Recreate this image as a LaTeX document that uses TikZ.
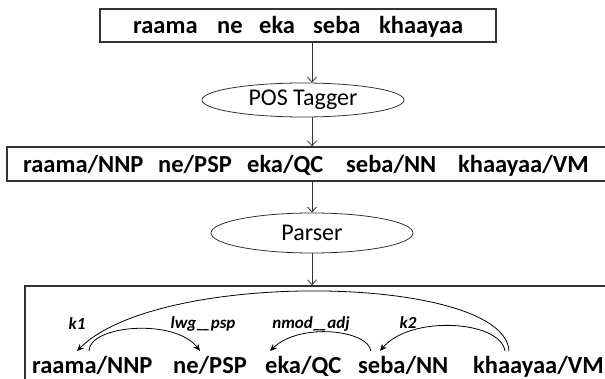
\documentclass[tikz,border=0pt]{standalone}
\usepackage{fontspec}
\setmainfont{Carlito}
\usetikzlibrary{arrows.meta,shapes.geometric}
\newcommand{\dblus}{\_\kern-2.5pt\_}
\begin{document}
\begin{tikzpicture}[x=1pt,y=-1pt,
  box/.style={draw=black!80,line width=1.3pt,inner sep=0pt},
  word/.style={font=\fontsize{24.5}{29}\selectfont\bfseries,inner sep=0pt,anchor=base west},
  proc/.style={draw=black!80,ellipse,line width=0.8pt,inner sep=0pt,font=\fontsize{24}{28}\selectfont},
  flow/.style={draw=black!80,line width=0.8pt,-{Straight Barb[length=5pt,width=9pt]}},
  dep/.style={draw=black,line width=0.8pt,-{Stealth[length=7pt,width=6pt]}},
  lab/.style={font=\fontsize{17}{20}\selectfont\bfseries\itshape,inner sep=0pt,anchor=base}]
\useasboundingbox (0,0) rectangle (605,379);
\clip (0,0) rectangle (605,379);
% top box
\node[box,minimum width=396pt,minimum height=33pt] (top) at (298,25.5) {};
\node[word] (t1) at (133,34) {raama};
\node[word] (t2) at (217,34) {ne};
\node[word] (t3) at (259,34) {eka};
\node[word] (t4) at (313,34) {seba};
\node[word] (t5) at (379,34) {khaayaa};
% POS tagger
\node[proc,minimum width=202pt,minimum height=34pt] (pos) at (303,100) {POS Tagger};
% middle box
\node[box,minimum width=613pt,minimum height=34pt] (mid) at (313.5,164) {};
\node[word] (m1) at (23,173) {raama/NNP};
\node[word] (m2) at (158,173) {ne/PSP};
\node[word] (m3) at (247,173) {eka/QC};
\node[word] (m4) at (346,173) {seba/NN};
\node[word] (m5) at (458,173) {khaayaa/VM};
% parser
\node[proc,minimum width=202pt,minimum height=40pt] (parser) at (312,233) {Parser};
% bottom box
\node[box,minimum width=595pt,minimum height=114pt] (bot) at (322.5,343) {};
\node[word] (b1) at (32,373) {raama/NNP};
\node[word] (b2) at (173,373) {ne/PSP};
\node[word] (b3) at (265,373) {eka/QC};
\node[word] (b4) at (358,373) {seba/NN};
\node[word] (b5) at (473,373) {khaayaa/VM};
% flow arrows
\coordinate (ax) at (312,0);
\draw[flow] (top.south -| ax) -- (pos.north -| ax);
\draw[flow] (pos.south -| ax) -- (mid.north -| ax);
\draw[flow] (mid.south -| ax) -- (parser.north -| ax);
\draw[flow] (parser.south -| ax) -- (bot.north -| ax);
% dependency arc ends
\coordinate (rA) at (77,351);
\coordinate (rB) at (89,351);
\coordinate (nA) at (200,351);
\coordinate (eA) at (270,351);
\coordinate (sB) at (371,351);
\coordinate (sA) at (380,351);
\coordinate (kB) at (505,351);
\coordinate (kC) at (509,351);
% arcs
\draw[dep] (kC) .. controls (505,275) and (160,268) .. (rA);
\draw[dep] (rB) .. controls (89,325) and (175,318) .. (nA);
\draw[dep] (sB) .. controls (368,330) and (300,322) .. (eA);
\draw[dep] (kB) .. controls (500,320) and (410,315) .. (sA);
% labels
\node[lab] (l1) at (77,330) {k1};
\node[lab] (l2) at (203,328) {lwg\dblus psp};
\node[lab] (l3) at (311,328) {nmod\dblus adj};
\node[lab] (l4) at (408,328) {k2};
\end{tikzpicture}
\end{document}
